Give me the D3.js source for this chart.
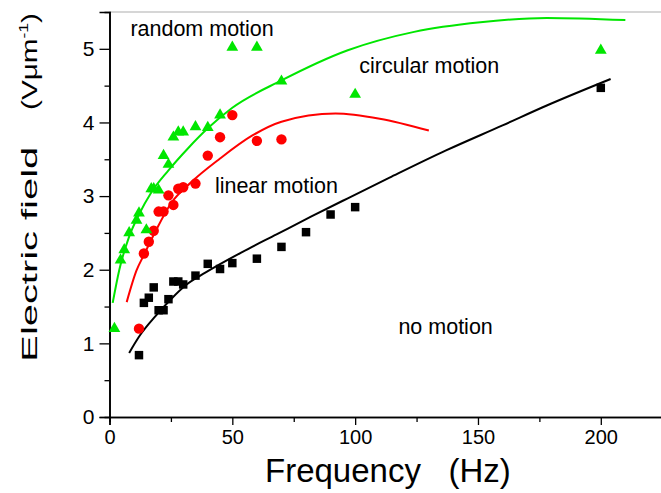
<!DOCTYPE html>
<html>
<head>
<meta charset="utf-8">
<script src="https://cdn.jsdelivr.net/npm/d3@7"></script>
<style>
  body { margin: 0; background: #fff; }
  text { font-family: Arial, "Liberation Sans", sans-serif; fill: #000; }
</style>
</head>
<body>
<div id="chart"></div>
<script>
// no motion (black squares)
const freqNone = [12, 14, 16, 18, 20, 22, 24, 26, 28, 30, 35, 40, 45, 50, 60, 70, 80, 90, 100, 200];
const fieldNone = [0.84, 1.55, 1.62, 1.76, 1.45, 1.45, 1.60, 1.84, 1.84, 1.80, 1.92, 2.08, 2.01, 2.09, 2.15, 2.31, 2.51, 2.75, 2.85, 4.47];

// linear motion (red circles)
const freqLinear = [12, 14, 16, 18, 20, 22, 24, 26, 28, 30, 35, 40, 45, 50, 60, 70];
const fieldLinear = [1.20, 2.22, 2.38, 2.53, 2.79, 2.79, 3.01, 2.88, 3.10, 3.12, 3.17, 3.55, 3.80, 4.10, 3.75, 3.77];

// random motion (green triangles)
const freqRandom = [2, 4.5, 6, 8, 11, 12, 15, 17, 18, 20, 22, 24, 26, 28, 30, 35, 40, 45, 50, 60, 70, 100, 200];
const fieldRandom = [1.20, 2.13, 2.27, 2.50, 2.67, 2.77, 2.54, 3.10, 3.10, 3.08, 3.55, 3.43, 3.80, 3.87, 3.87, 3.94, 3.93, 4.10, 5.02, 5.02, 4.56, 4.38, 4.98];

// fitted curves
const fitNoneX = [8, 12, 19, 25, 31, 39, 54, 68, 82, 97, 114, 137, 160, 178, 204];
const fitNoneY = [0.87, 1.09, 1.38, 1.60, 1.79, 1.96, 2.24, 2.48, 2.72, 2.97, 3.25, 3.62, 3.96, 4.23, 4.59];
const fitLinearX = [7, 11, 14, 19, 25, 33, 45, 58, 70, 92, 110, 130];
const fitLinearY = [1.56, 1.99, 2.20, 2.54, 2.90, 3.18, 3.51, 3.82, 4.01, 4.12, 4.05, 3.89];
const fitRandomX = [1.3, 4, 8, 12, 17, 24, 32, 40, 50, 70, 97, 124, 151, 178, 210];
const fitRandomY = [1.55, 2.0, 2.45, 2.75, 3.05, 3.35, 3.65, 3.92, 4.2, 4.57, 4.98, 5.23, 5.36, 5.42, 5.39];

const xMajor = [0, 50, 100, 150, 200];
const xMinor = [25, 75, 125, 175, 225];
const yMajor = [0, 1, 2, 3, 4, 5];
const yMinor = [0.5, 1.5, 2.5, 3.5, 4.5];

const labels = [
  { text: "random motion", f: 8.5, e: 5.17 },
  { text: "circular motion", f: 101.7, e: 4.675 },
  { text: "linear motion", f: 42.9, e: 3.04 },
  { text: "no motion", f: 117.6, e: 1.126 }
];

const width = 661, height = 493;
const margin = { top: 12, left: 109.5, bottom: 76 };

const svg = d3.select("#chart").append("svg")
  .attr("width", width)
  .attr("height", height);

const x = d3.scaleLinear().domain([0, 225]).range([margin.left, margin.left + 225 * 2.4565]);
const y = d3.scaleLinear().domain([0, 5.5]).range([height - margin.bottom, margin.top]);

// top frame (light)
svg.append("line")
  .attr("x1", x(0)).attr("x2", width)
  .attr("y1", y(5.5)).attr("y2", y(5.5))
  .attr("stroke", "#c8c8c8").attr("stroke-width", 1.5);

// x axis
const gx = svg.append("g").attr("transform", `translate(0,${y(0)})`);
gx.call(d3.axisBottom(x).tickValues(xMinor).tickSize(5).tickFormat(""));
gx.call(g => g.append("g").call(d3.axisBottom(x).tickValues(xMajor).tickSize(8).tickPadding(5).tickFormat(d3.format("d"))));
gx.selectAll("path.domain").attr("stroke-width", 1.6);
gx.selectAll(".tick line").attr("stroke-width", 1.3);
gx.selectAll(".tick text").attr("font-size", 20).attr("font-family", "Arial, 'Liberation Sans', sans-serif");

// y axis
const gy = svg.append("g").attr("transform", `translate(${x(0)},0)`);
gy.call(d3.axisLeft(y).tickValues(yMinor).tickSize(5).tickFormat(""));
gy.call(g => g.append("g").call(d3.axisLeft(y).tickValues(yMajor).tickSize(10).tickPadding(5).tickFormat(d3.format("d"))));
gy.selectAll("path.domain").attr("stroke-width", 1.6);
gy.selectAll(".tick line").attr("stroke-width", 1.3);
gy.selectAll(".tick text").attr("font-size", 21).attr("font-family", "Arial, 'Liberation Sans', sans-serif");

// axis titles
svg.append("text")
  .attr("x", 265).attr("y", 482)
  .attr("font-size", 33)
  .style("white-space", "pre")
  .text("Frequency   (Hz)");

// y title: tall, stretched glyphs along the axis
const yTitleA = svg.append("text")
  .attr("font-size", 22)
  .text("Electric field");
const lenA = yTitleA.node().getComputedTextLength();
yTitleA.attr("transform", `translate(36.7,361.7) rotate(-90) scale(${215 / lenA},1)`);

const yTitleB = svg.append("text")
  .attr("font-size", 22);
yTitleB.append("tspan").text("(V\u03bcm");
yTitleB.append("tspan").attr("font-size", 13).attr("dy", -9).text("-1");
yTitleB.append("tspan").attr("dy", 9).text(")");
const lenB = yTitleB.node().getComputedTextLength();
yTitleB.attr("transform", `translate(36.7,110) rotate(-90) scale(${97 / lenB},1)`);

// curves
const line = d3.line().x(d => x(d[0])).y(d => y(d[1])).curve(d3.curveMonotoneX);
const fits = [
  { xs: fitRandomX, ys: fitRandomY, color: "#00e600" },
  { xs: fitLinearX, ys: fitLinearY, color: "#ff0000" },
  { xs: fitNoneX, ys: fitNoneY, color: "#000000" }
];
svg.selectAll(".fit")
  .data(fits)
  .join("path")
  .attr("class", "fit")
  .attr("fill", "none")
  .attr("stroke", d => d.color)
  .attr("stroke-width", 2)
  .attr("d", d => line(d3.zip(d.xs, d.ys)));

// markers
svg.selectAll(".sq")
  .data(d3.zip(freqNone, fieldNone))
  .join("path")
  .attr("class", "sq")
  .attr("d", d3.symbol(d3.symbolSquare, 72))
  .attr("fill", "#000")
  .attr("transform", d => `translate(${x(d[0])},${y(d[1])})`);

svg.selectAll(".dot")
  .data(d3.zip(freqLinear, fieldLinear))
  .join("circle")
  .attr("class", "dot")
  .attr("r", 5.2)
  .attr("fill", "#ff0000")
  .attr("cx", d => x(d[0]))
  .attr("cy", d => y(d[1]));

svg.selectAll(".tri")
  .data(d3.zip(freqRandom, fieldRandom))
  .join("path")
  .attr("class", "tri")
  .attr("d", d3.symbol(d3.symbolTriangle, 60))
  .attr("fill", "#00e600")
  .attr("transform", d => `translate(${x(d[0])},${y(d[1])})`);

// region labels
svg.selectAll(".lbl")
  .data(labels)
  .join("text")
  .attr("class", "lbl")
  .attr("font-size", 21.5)
  .attr("x", d => x(d.f))
  .attr("y", d => y(d.e))
  .text(d => d.text);
</script>
</body>
</html>
